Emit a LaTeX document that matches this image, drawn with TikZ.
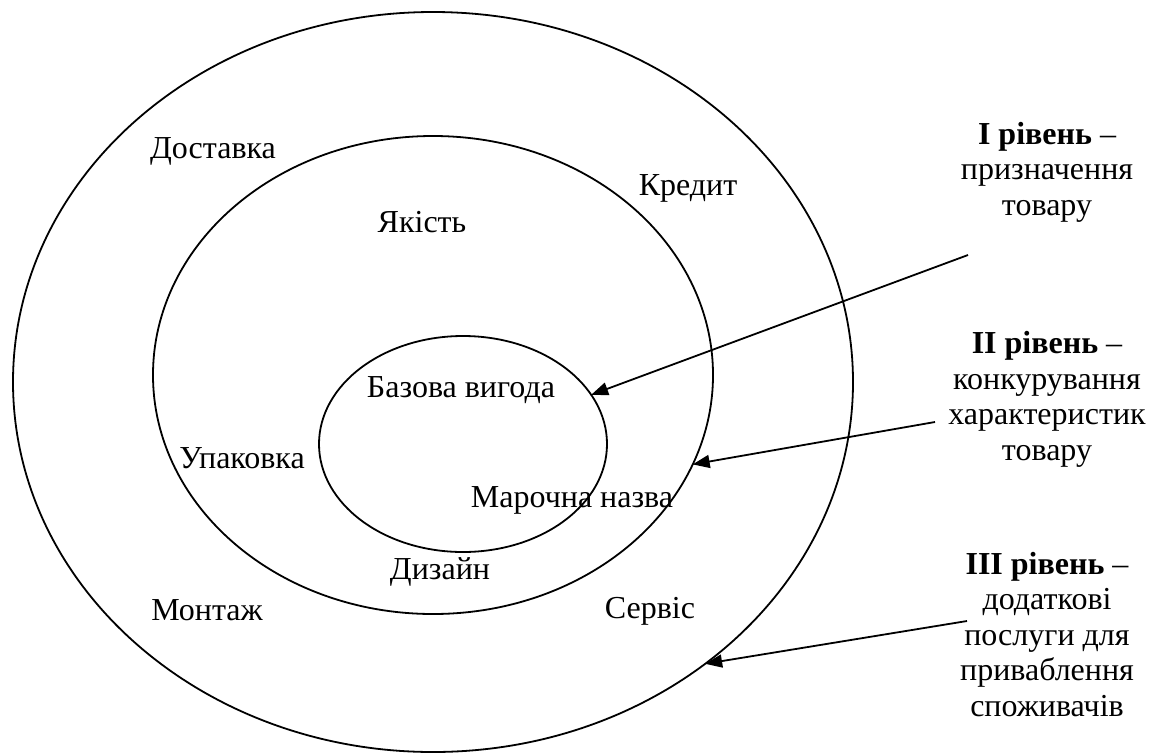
\documentclass[tikz,border=0pt]{standalone}
\usepackage{fontspec}
\setmainfont{Liberation Serif}
\usetikzlibrary{arrows.meta,shapes.geometric}
\begin{document}
\begin{tikzpicture}[x=1pt,y=-1pt,
  ring/.style={draw,ellipse,line width=1.8pt,inner sep=0pt,outer sep=0pt},
  word/.style={font=\fontsize{32}{35.5}\selectfont,inner sep=0pt,anchor=base},
  level/.style={font=\fontsize{32}{35.5}\selectfont,align=center,inner sep=0pt,anchor=base},
  pointer/.style={line width=1.8pt,-{Triangle[length=17pt,width=13pt]}}]
\useasboundingbox (0,0) rectangle (1156,753);
% three nested levels of the product
\node[ring,minimum width=840pt,minimum height=740pt] (outer) at (433,382) {};
\node[ring,minimum width=560pt,minimum height=478pt] (mid) at (433,375) {};
\node[ring,minimum width=288pt,minimum height=216pt] (inner) at (463,444) {};
% features inside the rings
\node[word] (dost) at (213,158) {Доставка};
\node[word] (kred) at (688,195) {Кредит};
\node[word] (yak) at (422,232) {Якість};
\node[word] (baz) at (461,397) {Базова вигода};
\node[word] (upak) at (242,468) {Упаковка};
\node[word] (mar) at (572,507) {Марочна назва};
\node[word] (diz) at (440,579) {Дизайн};
\node[word] (mont) at (207,620) {Монтаж};
\node[word] (serv) at (650,618) {Сервіс};
% level captions (placed by the baseline of their last line)
\node[level] (l1) at (1047,215) {\textbf{I рівень} –\\призначення\\товару};
\node[level] (l2) at (1047,460) {\textbf{II рівень} –\\конкурування\\характеристик\\товару};
\node[level] (l3) at (1047,716) {\textbf{III рівень} –\\додаткові\\послуги для\\приваблення\\споживачів};
% pointers from captions to rings
\coordinate (s1) at (968,255);
\coordinate (s2) at (935,422);
\coordinate (s3) at (967,621);
\draw[pointer] (s1) -- (inner.21);
\draw[pointer] (s2) -- (mid.-19);
\draw[pointer] (s3) -- (outer.-46.6);
\end{tikzpicture}
\end{document}
